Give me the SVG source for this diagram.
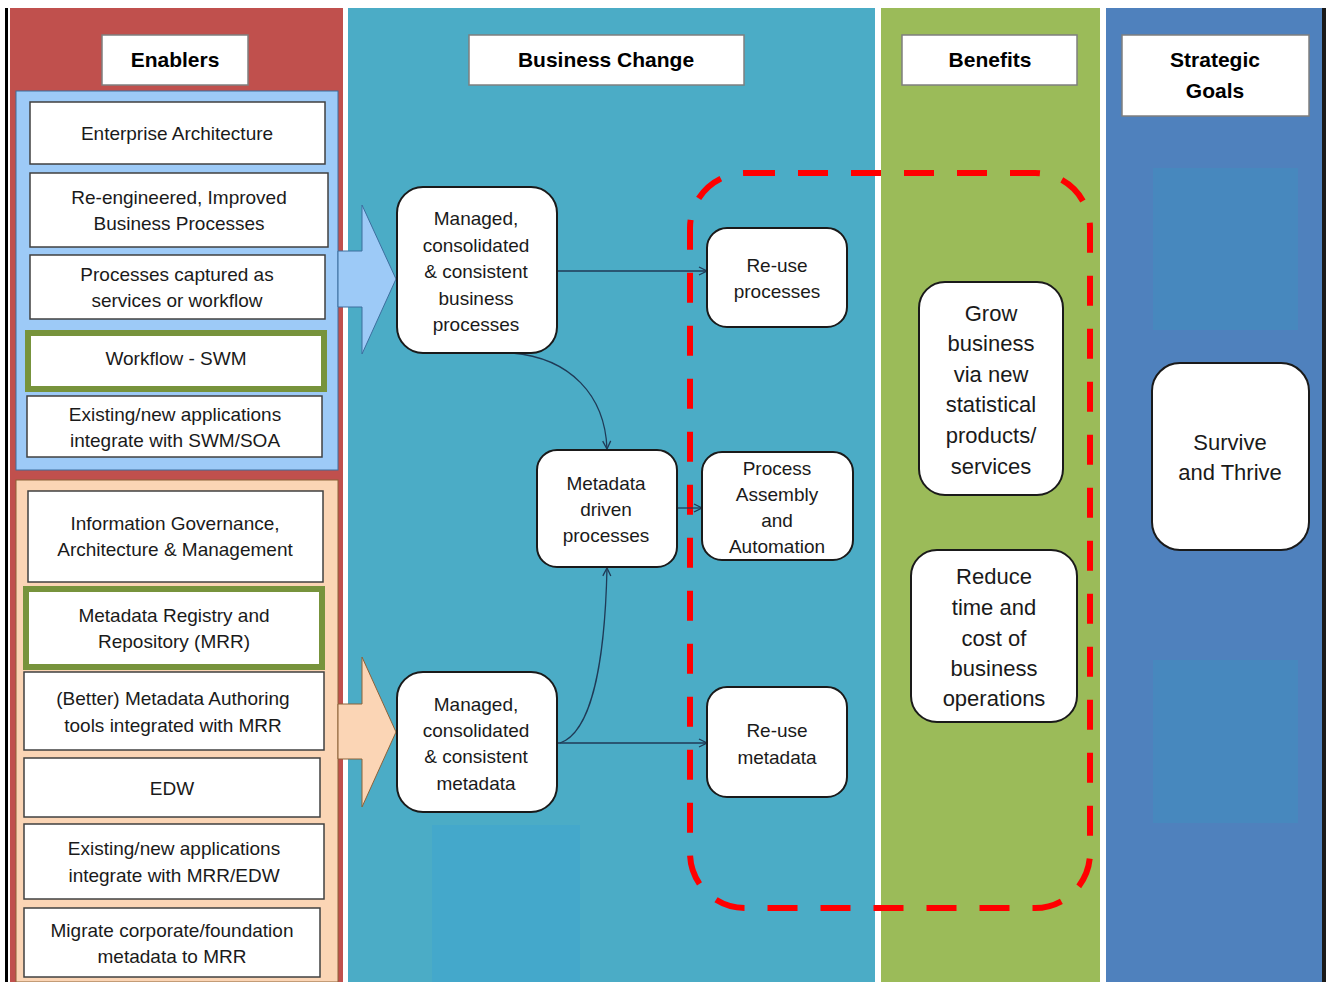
<svg xmlns="http://www.w3.org/2000/svg" width="1330" height="982" viewBox="0 0 1330 982">
<style>
  text { font-family: "Liberation Sans", Arial, sans-serif; fill: #1a1a1a; text-anchor: middle; }
  .hdr { font-weight: bold; font-size: 21px; fill: #000; }
  .hbox { fill: #fff; stroke: #7f7f7f; stroke-width: 1.5; }
  .ebox { fill: #fff; stroke: #404040; stroke-width: 1.5; }
  .gbox { fill: #fff; stroke: #77933c; stroke-width: 6; }
  .et { font-size: 19px; }
  .node { fill: #fff; stroke: #1a1a1a; stroke-width: 2; }
  .nt { font-size: 19px; }
  .bt { font-size: 22px; }
  .conn { fill: none; stroke: #1f3a56; stroke-width: 1.3; }
</style>
<defs>
  <marker id="arr" viewBox="0 0 10 10" refX="9" refY="5" markerWidth="10" markerHeight="10" markerUnits="userSpaceOnUse" orient="auto">
    <path d="M1,1 L9,5 L1,9" fill="none" stroke="#1f3a56" stroke-width="1.3"/>
  </marker>
</defs>
<rect x="0" y="0" width="1330" height="982" fill="#fff"/>
<!-- frame lines -->
<rect x="5" y="8" width="3" height="974" fill="#000"/>
<rect x="1322" y="8" width="4" height="974" fill="#1a1a1a"/>
<!-- columns -->
<g id="columns">
  <rect x="10" y="8" width="333" height="974" fill="#c0504d"/>
  <rect x="348" y="8" width="527" height="974" fill="#4bacc6"/>
  <rect x="432" y="825" width="148" height="157" fill="#44a8cb"/>
  <rect x="881" y="8" width="219" height="974" fill="#9bbb59"/>
  <rect x="1106" y="8" width="216" height="974" fill="#4f81bd"/>
  <rect x="1153" y="168" width="145" height="162" fill="#4788be"/>
  <rect x="1153" y="660" width="145" height="163" fill="#4788be"/>
</g>
<!-- headers -->
<g id="hdr-enablers">
  <rect class="hbox" x="102" y="35" width="146" height="50"/>
  <text class="hdr" x="175" y="67">Enablers</text>
</g>
<g id="hdr-business-change">
  <rect class="hbox" x="469" y="35" width="275" height="50"/>
  <text class="hdr" x="606" y="67">Business Change</text>
</g>
<g id="hdr-benefits">
  <rect class="hbox" x="902" y="35" width="175" height="50"/>
  <text class="hdr" x="990" y="67">Benefits</text>
</g>
<g id="hdr-strategic-goals">
  <rect class="hbox" x="1122" y="35" width="187" height="81"/>
  <text class="hdr" x="1215" y="67">Strategic</text>
  <text class="hdr" x="1215" y="98">Goals</text>
</g>
<!-- enabler panels -->
<g id="panel-process">
  <rect x="16" y="91" width="322" height="379" fill="#9dcaf7" stroke="#3c6e9e" stroke-width="1"/>
</g>
<g id="panel-metadata">
  <rect x="16" y="480" width="322" height="502" fill="#fbd5b5" stroke="#8c6239" stroke-width="1"/>
</g>
<!-- block arrows -->
<g id="arrow-process">
  <polygon points="338,251 362,251 362,205 396,279 362,354 362,307 338,307" fill="#9dcaf7" stroke="#3c6e9e" stroke-width="1"/>
</g>
<g id="arrow-metadata">
  <polygon points="338,704 362,704 362,657 396,732 362,807 362,759 338,759" fill="#fbd5b5" stroke="#8c6239" stroke-width="1"/>
</g>
<!-- enabler boxes -->
<g id="e-ea">
  <rect class="ebox" x="30" y="102" width="295" height="62"/>
  <text class="et" x="177" y="140">Enterprise Architecture</text>
</g>
<g id="e-reeng">
  <rect class="ebox" x="30" y="173" width="298" height="74"/>
  <text class="et" x="179" y="204">Re-engineered, Improved</text>
  <text class="et" x="179" y="230">Business Processes</text>
</g>
<g id="e-captured">
  <rect class="ebox" x="30" y="255" width="295" height="64"/>
  <text class="et" x="177" y="281">Processes captured as</text>
  <text class="et" x="177" y="307">services or workflow</text>
</g>
<g id="e-workflow">
  <rect class="gbox" x="28" y="333" width="296" height="56"/>
  <text class="et" x="176" y="365">Workflow - SWM</text>
</g>
<g id="e-apps-swm">
  <rect class="ebox" x="27" y="396" width="295" height="61"/>
  <text class="et" x="175" y="421">Existing/new applications</text>
  <text class="et" x="175" y="447">integrate with SWM/SOA</text>
</g>
<g id="e-infogov">
  <rect class="ebox" x="28" y="491" width="295" height="91"/>
  <text class="et" x="175" y="530">Information Governance,</text>
  <text class="et" x="175" y="556">Architecture &amp; Management</text>
</g>
<g id="e-mrr">
  <rect class="gbox" x="26" y="589" width="296" height="78"/>
  <text class="et" x="174" y="622">Metadata Registry and</text>
  <text class="et" x="174" y="648">Repository (MRR)</text>
</g>
<g id="e-authoring">
  <rect class="ebox" x="24" y="672" width="300" height="78"/>
  <text class="et" x="173" y="705">(Better) Metadata Authoring</text>
  <text class="et" x="173" y="732">tools integrated with MRR</text>
</g>
<g id="e-edw">
  <rect class="ebox" x="24" y="758" width="296" height="59"/>
  <text class="et" x="172" y="795">EDW</text>
</g>
<g id="e-apps-mrr">
  <rect class="ebox" x="24" y="824" width="300" height="75"/>
  <text class="et" x="174" y="855">Existing/new applications</text>
  <text class="et" x="174" y="882">integrate with MRR/EDW</text>
</g>
<g id="e-migrate">
  <rect class="ebox" x="24" y="908" width="296" height="69"/>
  <text class="et" x="172" y="937">Migrate corporate/foundation</text>
  <text class="et" x="172" y="963">metadata to MRR</text>
</g>
<!-- dashed boundary -->
<rect x="690" y="173" width="400" height="735" rx="55" ry="55" fill="none" stroke="#ff0000" stroke-width="6" stroke-dasharray="30 23"/>
<!-- connectors -->
<g id="connectors">
  <path class="conn" d="M557,271 L707,271" marker-end="url(#arr)"/>
  <path class="conn" d="M512,353 C570,358 605,395 607,449" marker-end="url(#arr)"/>
  <path class="conn" d="M677,508 L702,508" marker-end="url(#arr)"/>
  <path class="conn" d="M557,743 L707,743" marker-end="url(#arr)"/>
  <path class="conn" d="M560,743 C592,732 605,660 607,568" marker-end="url(#arr)"/>
</g>
<!-- business change nodes -->
<g id="n-managed-processes">
  <rect class="node" x="397" y="187" width="160" height="166" rx="26"/>
  <text class="nt" x="476" y="225">Managed,</text>
  <text class="nt" x="476" y="252">consolidated</text>
  <text class="nt" x="476" y="278">&amp; consistent</text>
  <text class="nt" x="476" y="305">business</text>
  <text class="nt" x="476" y="331">processes</text>
</g>
<g id="n-reuse-processes">
  <rect class="node" x="707" y="228" width="140" height="99" rx="20"/>
  <text class="nt" x="777" y="272">Re-use</text>
  <text class="nt" x="777" y="298">processes</text>
</g>
<g id="n-metadata-driven">
  <rect class="node" x="537" y="450" width="140" height="117" rx="20"/>
  <text class="nt" x="606" y="490">Metadata</text>
  <text class="nt" x="606" y="516">driven</text>
  <text class="nt" x="606" y="542">processes</text>
</g>
<g id="n-process-assembly">
  <rect class="node" x="702" y="452" width="151" height="108" rx="20"/>
  <text class="nt" x="777" y="475">Process</text>
  <text class="nt" x="777" y="501">Assembly</text>
  <text class="nt" x="777" y="527">and</text>
  <text class="nt" x="777" y="553">Automation</text>
</g>
<g id="n-managed-metadata">
  <rect class="node" x="397" y="672" width="160" height="140" rx="26"/>
  <text class="nt" x="476" y="711">Managed,</text>
  <text class="nt" x="476" y="737">consolidated</text>
  <text class="nt" x="476" y="763">&amp; consistent</text>
  <text class="nt" x="476" y="790">metadata</text>
</g>
<g id="n-reuse-metadata">
  <rect class="node" x="707" y="687" width="140" height="110" rx="20"/>
  <text class="nt" x="777" y="737">Re-use</text>
  <text class="nt" x="777" y="764">metadata</text>
</g>
<!-- benefits -->
<g id="b-grow">
  <rect class="node" x="919" y="282" width="144" height="213" rx="26"/>
  <text class="bt" x="991" y="321">Grow</text>
  <text class="bt" x="991" y="351">business</text>
  <text class="bt" x="991" y="382">via new</text>
  <text class="bt" x="991" y="412">statistical</text>
  <text class="bt" x="991" y="443">products/</text>
  <text class="bt" x="991" y="474">services</text>
</g>
<g id="b-reduce">
  <rect class="node" x="911" y="550" width="166" height="172" rx="26"/>
  <text class="bt" x="994" y="584">Reduce</text>
  <text class="bt" x="994" y="615">time and</text>
  <text class="bt" x="994" y="646">cost of</text>
  <text class="bt" x="994" y="676">business</text>
  <text class="bt" x="994" y="706">operations</text>
</g>
<!-- strategic goals -->
<g id="g-survive">
  <rect class="node" x="1152" y="363" width="157" height="187" rx="28"/>
  <text class="bt" x="1230" y="450">Survive</text>
  <text class="bt" x="1230" y="480">and Thrive</text>
</g>
</svg>
